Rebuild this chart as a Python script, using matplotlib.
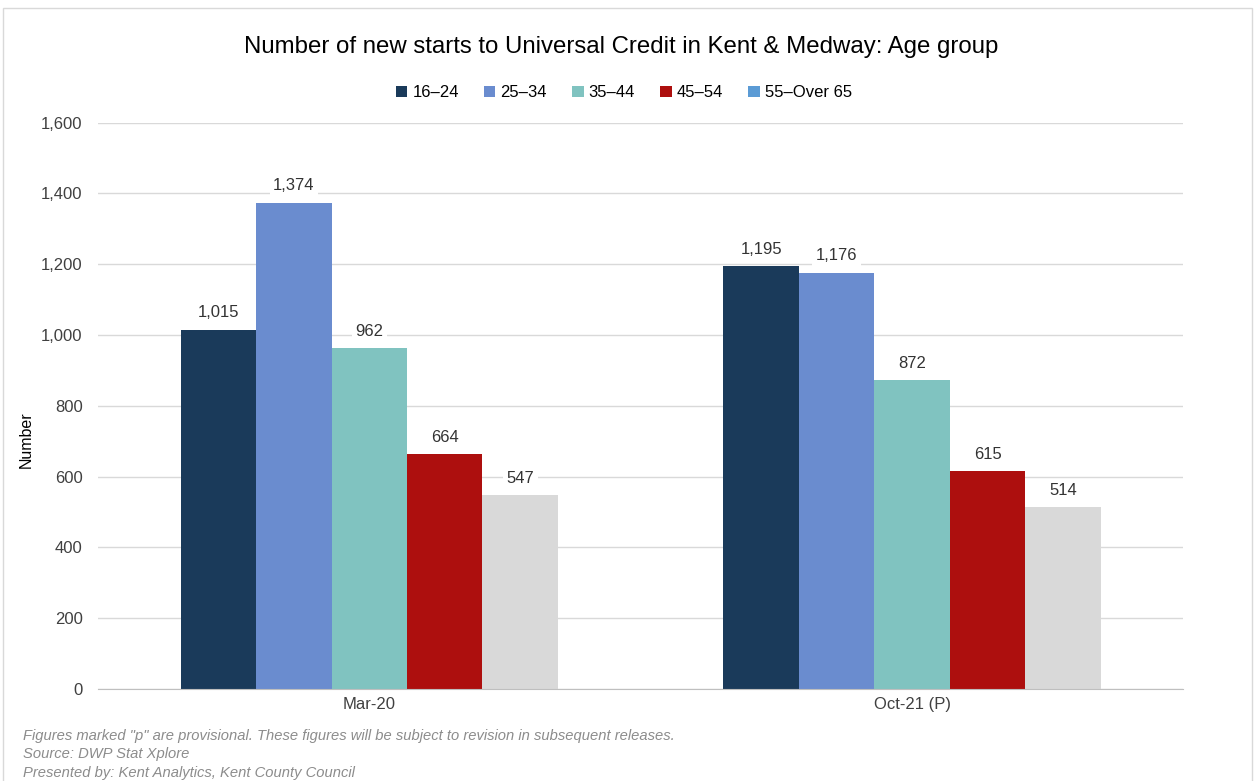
import matplotlib.pyplot as plt
import numpy as np
from matplotlib.patches import Patch, Rectangle
from matplotlib.ticker import FuncFormatter

plt.rcParams["font.family"] = ["Liberation Sans", "DejaVu Sans"]

periods = ["Mar-20", "Oct-21 (P)"]
age_groups = ["16\u201324", "25\u201334", "35\u201344", "45\u201354", "55\u2013Over 65"]
starts = {
    "16\u201324": [1015, 1195],
    "25\u201334": [1374, 1176],
    "35\u201344": [962, 872],
    "45\u201354": [664, 615],
    "55\u2013Over 65": [547, 514],
}
bar_colors = ["#1A3A5A", "#6A8CCF", "#80C3C0", "#AD0F0E", "#D9D9D9"]
legend_colors = ["#1A3A5A", "#6A8CCF", "#80C3C0", "#AD0F0E", "#5B9BD5"]

fig = plt.figure(figsize=(12.55, 7.81), dpi=100)
ax = fig.add_axes([0.078, 0.118, 0.865, 0.725])

x = np.arange(len(periods))
width = 0.139
for i, grp in enumerate(age_groups):
    pos = x + (i - 2) * width
    vals = starts[grp]
    ax.bar(pos, vals, width, color=bar_colors[i], zorder=2)
    for px, v in zip(pos, vals):
        ax.text(px, v + 26, f"{v:,}", ha="center", va="bottom", fontsize=12,
                color="#333333", zorder=3,
                bbox=dict(facecolor="white", edgecolor="none", pad=2.5))

ax.set_xlim(-0.5, 1.5)
ax.set_ylim(0, 1600)
ax.set_yticks(range(0, 1601, 200))
ax.yaxis.set_major_formatter(FuncFormatter(lambda v, _: f"{int(v):,}"))
ax.set_xticks(x)
ax.set_xticklabels(periods)
ax.tick_params(axis="both", length=0, labelsize=12, colors="#404040", pad=6)
ax.tick_params(axis="y", pad=11)
ax.grid(axis="y", color="#D9D9D9", linewidth=1, zorder=0)
for s in ["top", "right", "left"]:
    ax.spines[s].set_visible(False)
ax.spines["bottom"].set_color("#BFBFBF")
ax.set_ylabel("Number", fontsize=11.5, color="#000000")
ax.yaxis.set_label_coords(-0.059, 0.44)

fig.text(0.495, 0.94, "Number of new starts to Universal Credit in Kent & Medway: Age group",
         ha="center", va="center", fontsize=17.3, color="#000000")

handles = [Patch(facecolor=c, edgecolor="none") for c in legend_colors]
fig.legend(handles, age_groups, loc="center", bbox_to_anchor=(0.497, 0.881), ncol=5,
           frameon=False, fontsize=12, handlelength=0.7, handleheight=0.7,
           handletextpad=0.3, columnspacing=1.5)

notes = [
    'Figures marked "p" are provisional. These figures will be subject to revision in subsequent releases.',
    "Source: DWP Stat Xplore",
    "Presented by: Kent Analytics, Kent County Council",
]
for k, line in enumerate(notes):
    fig.text(0.018, 0.0576 - k * 0.0235, line, ha="left", va="center", fontsize=10.6,
             style="italic", color="#8C8C8C",
             family=["Liberation Sans Narrow", "Liberation Sans", "DejaVu Sans"])

fig.patches.append(Rectangle((0.002, -0.01), 0.996, 1.0, transform=fig.transFigure,
                             fill=False, edgecolor="#D9D9D9", linewidth=1))

fig.savefig("out.png", dpi=100)
